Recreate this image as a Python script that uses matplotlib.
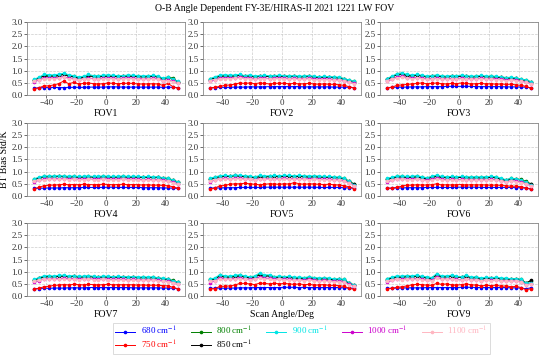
import matplotlib
matplotlib.use("Agg")
import matplotlib.pyplot as plt
import numpy as np

plt.rcParams['font.family'] = ['Liberation Serif', 'DejaVu Serif']
plt.rcParams['mathtext.fontset'] = 'stix'

# scan angles (deg), 30 fields of regard
scan_angle = [-48.3, -45.0, -41.7, -38.3, -35.0, -31.7, -28.3, -25.0, -21.7, -18.3,
              -15.0, -11.7, -8.3, -5.0, -1.7, 1.7, 5.0, 8.3, 11.7, 15.0,
              18.3, 21.7, 25.0, 28.3, 31.7, 35.0, 38.3, 41.7, 45.0, 48.3]

channels = ['680', '750', '800', '850', '900', '1000', '1100']
colors = ['#0000ff', '#ff0000', '#008000', '#000000', '#00e5e5', '#cc00cc', '#ffb6c1']
fov_labels = ['FOV1', 'FOV2', 'FOV3', 'FOV4', 'FOV5', 'FOV6', 'FOV7', 'Scan Angle/Deg', 'FOV9']

# std of O-B per FOV (rows FOV1..FOV9), per channel
ch680 = [
    [0.28,0.30,0.31,0.31,0.32,0.31,0.31,0.32,0.32,0.32,0.32,0.33,0.33,0.33,0.33,0.34,0.34,0.34,0.33,0.33,0.33,0.33,0.33,0.33,0.33,0.33,0.32,0.33,0.32,0.31],
    [0.30,0.31,0.32,0.32,0.32,0.33,0.33,0.33,0.34,0.34,0.34,0.34,0.35,0.35,0.35,0.35,0.35,0.35,0.35,0.34,0.34,0.34,0.34,0.34,0.34,0.33,0.33,0.33,0.32,0.31],
    [0.30,0.32,0.33,0.33,0.33,0.34,0.34,0.34,0.35,0.35,0.35,0.35,0.36,0.36,0.36,0.36,0.36,0.36,0.35,0.35,0.35,0.35,0.35,0.35,0.34,0.34,0.34,0.33,0.33,0.30],
    [0.31,0.32,0.32,0.33,0.33,0.33,0.34,0.34,0.34,0.34,0.35,0.35,0.35,0.35,0.35,0.36,0.36,0.35,0.35,0.35,0.35,0.35,0.34,0.34,0.34,0.34,0.33,0.33,0.32,0.31],
    [0.32,0.33,0.33,0.34,0.34,0.34,0.35,0.35,0.35,0.35,0.35,0.36,0.36,0.36,0.36,0.36,0.36,0.36,0.36,0.36,0.36,0.36,0.35,0.35,0.35,0.35,0.35,0.34,0.33,0.32],
    [0.32,0.32,0.33,0.33,0.34,0.34,0.34,0.34,0.35,0.35,0.35,0.35,0.35,0.35,0.36,0.36,0.36,0.36,0.36,0.35,0.35,0.35,0.35,0.35,0.35,0.35,0.34,0.34,0.32,0.30],
    [0.30,0.31,0.32,0.32,0.33,0.33,0.33,0.34,0.34,0.34,0.34,0.35,0.35,0.35,0.35,0.35,0.35,0.35,0.35,0.35,0.34,0.34,0.34,0.34,0.34,0.34,0.33,0.33,0.32,0.31],
    [0.32,0.32,0.33,0.32,0.33,0.33,0.34,0.34,0.34,0.35,0.35,0.35,0.35,0.35,0.35,0.36,0.36,0.36,0.35,0.36,0.35,0.35,0.35,0.35,0.35,0.35,0.35,0.34,0.33,0.32],
    [0.32,0.32,0.33,0.33,0.34,0.34,0.34,0.34,0.35,0.35,0.35,0.35,0.35,0.35,0.35,0.36,0.36,0.36,0.35,0.35,0.35,0.35,0.35,0.35,0.35,0.34,0.34,0.33,0.30,0.34],
]
ch750 = [
    [0.27,0.30,0.38,0.38,0.42,0.47,0.58,0.47,0.52,0.46,0.48,0.50,0.47,0.46,0.47,0.50,0.48,0.47,0.48,0.49,0.48,0.46,0.46,0.46,0.47,0.46,0.40,0.48,0.35,0.28],
    [0.30,0.32,0.36,0.40,0.42,0.45,0.50,0.48,0.50,0.47,0.50,0.48,0.46,0.48,0.49,0.48,0.47,0.48,0.46,0.47,0.48,0.46,0.45,0.46,0.45,0.44,0.43,0.40,0.35,0.30],
    [0.30,0.33,0.40,0.42,0.44,0.46,0.48,0.50,0.47,0.48,0.50,0.47,0.46,0.48,0.47,0.50,0.48,0.46,0.47,0.48,0.46,0.47,0.45,0.46,0.44,0.45,0.42,0.40,0.36,0.28],
    [0.30,0.35,0.42,0.44,0.45,0.46,0.48,0.46,0.47,0.46,0.48,0.47,0.46,0.47,0.48,0.47,0.46,0.47,0.48,0.46,0.47,0.46,0.45,0.46,0.44,0.45,0.43,0.42,0.38,0.32],
    [0.30,0.32,0.42,0.43,0.48,0.50,0.50,0.52,0.50,0.48,0.46,0.48,0.50,0.49,0.48,0.50,0.49,0.55,0.50,0.48,0.50,0.49,0.48,0.47,0.48,0.46,0.45,0.42,0.38,0.30],
    [0.32,0.32,0.36,0.40,0.45,0.44,0.46,0.45,0.45,0.46,0.50,0.45,0.46,0.45,0.46,0.47,0.45,0.46,0.45,0.46,0.45,0.44,0.45,0.43,0.42,0.40,0.40,0.38,0.33,0.27],
    [0.28,0.32,0.38,0.40,0.44,0.45,0.47,0.46,0.48,0.47,0.46,0.48,0.47,0.46,0.47,0.48,0.46,0.47,0.46,0.47,0.46,0.45,0.46,0.44,0.45,0.44,0.43,0.42,0.36,0.30],
    [0.30,0.30,0.40,0.40,0.42,0.45,0.52,0.52,0.50,0.47,0.53,0.52,0.50,0.53,0.50,0.52,0.50,0.48,0.50,0.47,0.48,0.45,0.46,0.47,0.44,0.44,0.43,0.40,0.32,0.28],
    [0.30,0.32,0.36,0.38,0.42,0.46,0.48,0.47,0.45,0.44,0.52,0.48,0.50,0.46,0.45,0.47,0.50,0.46,0.45,0.42,0.44,0.43,0.45,0.40,0.42,0.38,0.40,0.35,0.26,0.30],
]
ch800 = [
    [0.62,0.70,0.80,0.80,0.80,0.82,0.87,0.80,0.78,0.72,0.75,0.80,0.78,0.77,0.78,0.79,0.78,0.77,0.78,0.80,0.78,0.77,0.76,0.77,0.78,0.76,0.68,0.75,0.70,0.55],
    [0.65,0.72,0.78,0.80,0.79,0.80,0.82,0.78,0.80,0.76,0.78,0.79,0.77,0.78,0.79,0.78,0.77,0.78,0.76,0.77,0.78,0.75,0.74,0.75,0.74,0.73,0.72,0.68,0.62,0.56],
    [0.66,0.75,0.85,0.88,0.82,0.80,0.82,0.80,0.76,0.78,0.80,0.77,0.76,0.78,0.77,0.79,0.78,0.76,0.77,0.78,0.76,0.77,0.75,0.74,0.70,0.72,0.70,0.65,0.62,0.55],
    [0.68,0.75,0.80,0.80,0.80,0.81,0.80,0.79,0.80,0.78,0.79,0.80,0.78,0.79,0.80,0.79,0.78,0.79,0.80,0.78,0.79,0.78,0.77,0.78,0.76,0.77,0.74,0.72,0.66,0.58],
    [0.70,0.76,0.80,0.82,0.80,0.83,0.82,0.80,0.79,0.76,0.80,0.79,0.80,0.81,0.80,0.82,0.81,0.80,0.81,0.80,0.79,0.80,0.79,0.78,0.78,0.76,0.76,0.72,0.62,0.50],
    [0.70,0.75,0.80,0.80,0.78,0.79,0.80,0.76,0.72,0.78,0.82,0.78,0.77,0.78,0.77,0.78,0.77,0.76,0.77,0.76,0.77,0.78,0.77,0.70,0.66,0.72,0.70,0.68,0.60,0.50],
    [0.66,0.74,0.80,0.81,0.80,0.82,0.83,0.80,0.82,0.79,0.80,0.81,0.79,0.78,0.80,0.79,0.78,0.79,0.78,0.77,0.78,0.76,0.77,0.76,0.77,0.74,0.72,0.70,0.64,0.58],
    [0.68,0.72,0.85,0.80,0.80,0.82,0.85,0.80,0.77,0.80,0.90,0.84,0.84,0.78,0.80,0.78,0.79,0.75,0.76,0.74,0.77,0.74,0.72,0.73,0.72,0.68,0.70,0.68,0.55,0.45],
    [0.68,0.75,0.80,0.78,0.81,0.80,0.83,0.78,0.76,0.73,0.88,0.80,0.80,0.83,0.79,0.78,0.82,0.76,0.77,0.72,0.75,0.74,0.75,0.72,0.72,0.70,0.72,0.68,0.55,0.62],
]
ch850 = [
    [0.62,0.70,0.78,0.78,0.78,0.80,0.85,0.78,0.76,0.70,0.74,0.79,0.76,0.75,0.77,0.78,0.77,0.76,0.77,0.78,0.77,0.76,0.75,0.76,0.77,0.75,0.67,0.72,0.65,0.55],
    [0.64,0.71,0.77,0.79,0.78,0.79,0.81,0.77,0.79,0.75,0.77,0.78,0.76,0.77,0.78,0.77,0.76,0.77,0.75,0.76,0.77,0.74,0.73,0.74,0.73,0.72,0.71,0.66,0.60,0.55],
    [0.65,0.74,0.84,0.86,0.80,0.79,0.81,0.79,0.75,0.77,0.79,0.76,0.75,0.77,0.76,0.78,0.77,0.75,0.76,0.77,0.75,0.76,0.74,0.73,0.69,0.71,0.69,0.64,0.60,0.54],
    [0.67,0.74,0.79,0.79,0.79,0.80,0.79,0.78,0.79,0.77,0.78,0.79,0.77,0.78,0.79,0.78,0.77,0.78,0.79,0.77,0.78,0.77,0.76,0.77,0.75,0.76,0.73,0.70,0.64,0.56],
    [0.69,0.75,0.79,0.81,0.80,0.84,0.81,0.79,0.78,0.75,0.79,0.78,0.79,0.80,0.79,0.81,0.80,0.79,0.80,0.79,0.78,0.79,0.78,0.77,0.77,0.75,0.75,0.70,0.60,0.48],
    [0.68,0.74,0.78,0.78,0.76,0.77,0.78,0.74,0.70,0.76,0.80,0.76,0.75,0.76,0.75,0.76,0.75,0.74,0.75,0.74,0.75,0.76,0.75,0.68,0.64,0.70,0.68,0.66,0.56,0.48],
    [0.65,0.73,0.79,0.80,0.79,0.81,0.82,0.79,0.81,0.78,0.79,0.80,0.78,0.77,0.79,0.78,0.77,0.78,0.77,0.76,0.77,0.75,0.76,0.75,0.76,0.73,0.71,0.68,0.62,0.56],
    [0.67,0.70,0.82,0.78,0.78,0.80,0.82,0.78,0.75,0.78,0.86,0.82,0.82,0.76,0.78,0.76,0.77,0.73,0.74,0.72,0.75,0.72,0.70,0.71,0.70,0.66,0.69,0.66,0.52,0.47],
    [0.67,0.74,0.79,0.77,0.80,0.79,0.82,0.77,0.75,0.72,0.86,0.79,0.79,0.82,0.78,0.77,0.81,0.75,0.76,0.71,0.74,0.73,0.74,0.71,0.71,0.69,0.71,0.67,0.52,0.65],
]
ch900 = [
    [0.65,0.73,0.85,0.84,0.83,0.86,0.90,0.84,0.80,0.74,0.78,0.85,0.80,0.80,0.82,0.83,0.81,0.80,0.80,0.83,0.81,0.80,0.79,0.80,0.81,0.78,0.70,0.73,0.66,0.56],
    [0.68,0.75,0.82,0.84,0.82,0.83,0.85,0.80,0.83,0.78,0.80,0.82,0.79,0.80,0.82,0.80,0.79,0.80,0.78,0.79,0.80,0.77,0.76,0.77,0.76,0.75,0.74,0.68,0.62,0.56],
    [0.68,0.78,0.88,0.92,0.85,0.83,0.85,0.82,0.78,0.80,0.83,0.80,0.78,0.80,0.80,0.82,0.80,0.78,0.79,0.81,0.78,0.79,0.77,0.76,0.72,0.74,0.71,0.66,0.62,0.55],
    [0.70,0.77,0.82,0.82,0.82,0.83,0.82,0.81,0.82,0.80,0.81,0.82,0.80,0.81,0.82,0.81,0.80,0.81,0.82,0.80,0.81,0.80,0.79,0.80,0.78,0.79,0.75,0.72,0.65,0.57],
    [0.72,0.78,0.83,0.85,0.83,0.86,0.85,0.83,0.82,0.78,0.84,0.82,0.83,0.84,0.83,0.85,0.84,0.83,0.84,0.83,0.82,0.83,0.82,0.80,0.80,0.78,0.78,0.72,0.60,0.46],
    [0.72,0.77,0.82,0.82,0.80,0.81,0.83,0.79,0.75,0.80,0.86,0.80,0.79,0.80,0.79,0.80,0.79,0.78,0.79,0.78,0.79,0.80,0.79,0.72,0.67,0.72,0.70,0.66,0.56,0.46],
    [0.68,0.76,0.83,0.84,0.82,0.85,0.86,0.82,0.84,0.81,0.82,0.84,0.81,0.80,0.82,0.81,0.80,0.81,0.80,0.79,0.80,0.78,0.79,0.78,0.79,0.75,0.73,0.70,0.63,0.57],
    [0.70,0.74,0.88,0.83,0.82,0.85,0.88,0.82,0.80,0.82,0.95,0.87,0.87,0.80,0.82,0.80,0.81,0.77,0.78,0.76,0.79,0.76,0.74,0.75,0.74,0.70,0.71,0.68,0.55,0.45],
    [0.72,0.78,0.83,0.82,0.84,0.83,0.86,0.81,0.79,0.76,0.92,0.83,0.83,0.86,0.81,0.80,0.85,0.78,0.79,0.74,0.77,0.76,0.77,0.74,0.74,0.71,0.72,0.68,0.52,0.55],
]
ch1000 = [
    [0.55,0.62,0.70,0.70,0.70,0.72,0.76,0.70,0.68,0.64,0.66,0.70,0.68,0.68,0.69,0.70,0.69,0.68,0.69,0.70,0.69,0.68,0.67,0.68,0.69,0.67,0.60,0.62,0.56,0.48],
    [0.56,0.63,0.69,0.71,0.70,0.71,0.73,0.69,0.71,0.67,0.69,0.70,0.68,0.69,0.70,0.69,0.68,0.69,0.67,0.68,0.69,0.66,0.65,0.66,0.65,0.64,0.63,0.58,0.53,0.48],
    [0.57,0.65,0.74,0.77,0.72,0.70,0.72,0.70,0.67,0.68,0.70,0.68,0.67,0.68,0.68,0.70,0.68,0.67,0.68,0.69,0.67,0.68,0.66,0.65,0.62,0.63,0.61,0.57,0.53,0.47],
    [0.58,0.64,0.69,0.70,0.70,0.71,0.70,0.69,0.70,0.68,0.69,0.70,0.68,0.69,0.70,0.69,0.68,0.69,0.70,0.68,0.69,0.68,0.67,0.68,0.66,0.67,0.64,0.61,0.56,0.49],
    [0.58,0.65,0.70,0.72,0.70,0.73,0.72,0.70,0.69,0.67,0.71,0.70,0.70,0.71,0.70,0.72,0.71,0.70,0.71,0.70,0.69,0.70,0.69,0.68,0.68,0.66,0.66,0.62,0.53,0.42],
    [0.58,0.64,0.70,0.70,0.68,0.69,0.70,0.67,0.64,0.68,0.72,0.68,0.67,0.68,0.67,0.68,0.67,0.66,0.67,0.66,0.67,0.68,0.67,0.61,0.58,0.62,0.60,0.57,0.50,0.42],
    [0.56,0.63,0.70,0.71,0.70,0.72,0.73,0.70,0.72,0.69,0.70,0.71,0.69,0.68,0.70,0.69,0.68,0.69,0.68,0.67,0.68,0.66,0.67,0.66,0.67,0.64,0.62,0.60,0.55,0.50],
    [0.55,0.62,0.74,0.70,0.70,0.72,0.75,0.70,0.68,0.70,0.78,0.73,0.73,0.68,0.70,0.68,0.69,0.66,0.67,0.65,0.68,0.65,0.63,0.64,0.63,0.60,0.61,0.58,0.48,0.40],
    [0.58,0.64,0.70,0.68,0.71,0.70,0.72,0.68,0.66,0.64,0.77,0.70,0.70,0.72,0.68,0.67,0.71,0.66,0.67,0.63,0.65,0.64,0.65,0.63,0.63,0.61,0.62,0.58,0.45,0.50],
]
ch1100 = [
    [0.60,0.63,0.68,0.68,0.68,0.70,0.73,0.68,0.66,0.63,0.65,0.68,0.66,0.66,0.67,0.68,0.67,0.66,0.67,0.68,0.67,0.66,0.65,0.66,0.67,0.65,0.58,0.60,0.55,0.48],
    [0.60,0.64,0.67,0.68,0.68,0.69,0.70,0.67,0.68,0.65,0.67,0.68,0.66,0.67,0.68,0.67,0.66,0.67,0.65,0.66,0.67,0.64,0.63,0.64,0.63,0.62,0.61,0.57,0.52,0.47],
    [0.60,0.65,0.71,0.73,0.69,0.68,0.69,0.68,0.65,0.66,0.68,0.66,0.65,0.66,0.66,0.67,0.66,0.65,0.66,0.67,0.65,0.66,0.64,0.63,0.60,0.61,0.59,0.56,0.52,0.46],
    [0.61,0.64,0.67,0.68,0.68,0.68,0.68,0.67,0.68,0.66,0.67,0.68,0.66,0.67,0.68,0.67,0.66,0.67,0.68,0.66,0.67,0.66,0.65,0.66,0.64,0.65,0.62,0.60,0.55,0.48],
    [0.62,0.66,0.69,0.70,0.69,0.71,0.70,0.69,0.68,0.66,0.69,0.68,0.68,0.69,0.68,0.70,0.69,0.68,0.69,0.68,0.67,0.68,0.67,0.66,0.66,0.64,0.64,0.60,0.52,0.42],
    [0.62,0.65,0.68,0.68,0.67,0.67,0.68,0.66,0.63,0.66,0.69,0.66,0.65,0.66,0.65,0.66,0.65,0.64,0.65,0.64,0.65,0.66,0.65,0.60,0.57,0.60,0.58,0.55,0.49,0.42],
    [0.60,0.64,0.68,0.69,0.68,0.69,0.70,0.68,0.69,0.67,0.68,0.69,0.67,0.66,0.68,0.67,0.66,0.67,0.66,0.65,0.66,0.64,0.65,0.64,0.65,0.62,0.60,0.58,0.54,0.50],
    [0.60,0.63,0.70,0.68,0.68,0.69,0.71,0.68,0.66,0.68,0.74,0.70,0.70,0.66,0.68,0.66,0.67,0.64,0.65,0.63,0.66,0.63,0.61,0.62,0.61,0.58,0.59,0.56,0.46,0.40],
    [0.62,0.65,0.68,0.67,0.69,0.68,0.70,0.67,0.65,0.63,0.73,0.68,0.68,0.70,0.67,0.66,0.69,0.65,0.66,0.62,0.64,0.63,0.64,0.62,0.62,0.60,0.61,0.57,0.46,0.48],
]
series = [ch680, ch750, ch800, ch850, ch900, ch1000, ch1100]

fig = plt.figure(figsize=(5.5, 3.55), dpi=100)

lefts = [0.049, 0.369, 0.691]
bottoms = [0.732, 0.448, 0.166]
w, h = 0.287, 0.206

lines = []
for k in range(9):
    r, c = divmod(k, 3)
    ax = fig.add_axes([lefts[c], bottoms[r], w, h])
    for i, data in enumerate(series):
        ln, = ax.plot(scan_angle, data[k], color=colors[i], marker='o',
                      markersize=1.6, linewidth=0.7,
                      label=channels[i] + r' cm$^{-1}$')
        if k == 0:
            lines.append(ln)
    ax.set_xlim(-53, 53)
    ax.set_ylim(0, 3.0)
    ax.set_yticks(np.arange(0, 3.01, 0.5))
    ax.set_yticklabels(['%.1f' % v for v in np.arange(0, 3.01, 0.5)])
    ax.set_xticks([-40, -20, 0, 20, 40])
    ax.grid(True, linestyle='--', linewidth=0.5, color='#cccccc')
    ax.tick_params(labelsize=6.5, length=2, width=0.5, pad=1, colors='#333333')
    for sp in ax.spines.values():
        sp.set_color('#888888')
        sp.set_linewidth(0.6)
    ax.set_xlabel(fov_labels[k], fontsize=7, labelpad=1)
    if k == 3:
        ax.set_ylabel('BT Bias Std/K', fontsize=7, labelpad=2)

fig.suptitle('O-B Angle Dependent FY-3E/HIRAS-II 2021 1221 LW FOV', fontsize=7, y=0.99)

leg = fig.legend(handles=lines, loc='upper center', bbox_to_anchor=(0.548, 0.104),
                 ncol=5, fontsize=6.5, frameon=True, handlelength=2.2,
                 handletextpad=0.6, columnspacing=1.6, labelspacing=0.15,
                 borderpad=0.3, fancybox=False)
leg.get_frame().set_edgecolor('#cccccc')
leg.get_frame().set_linewidth(0.6)
for txt, col in zip(leg.get_texts(), colors):
    txt.set_color(col)

fig.savefig('out.png', dpi=100)
